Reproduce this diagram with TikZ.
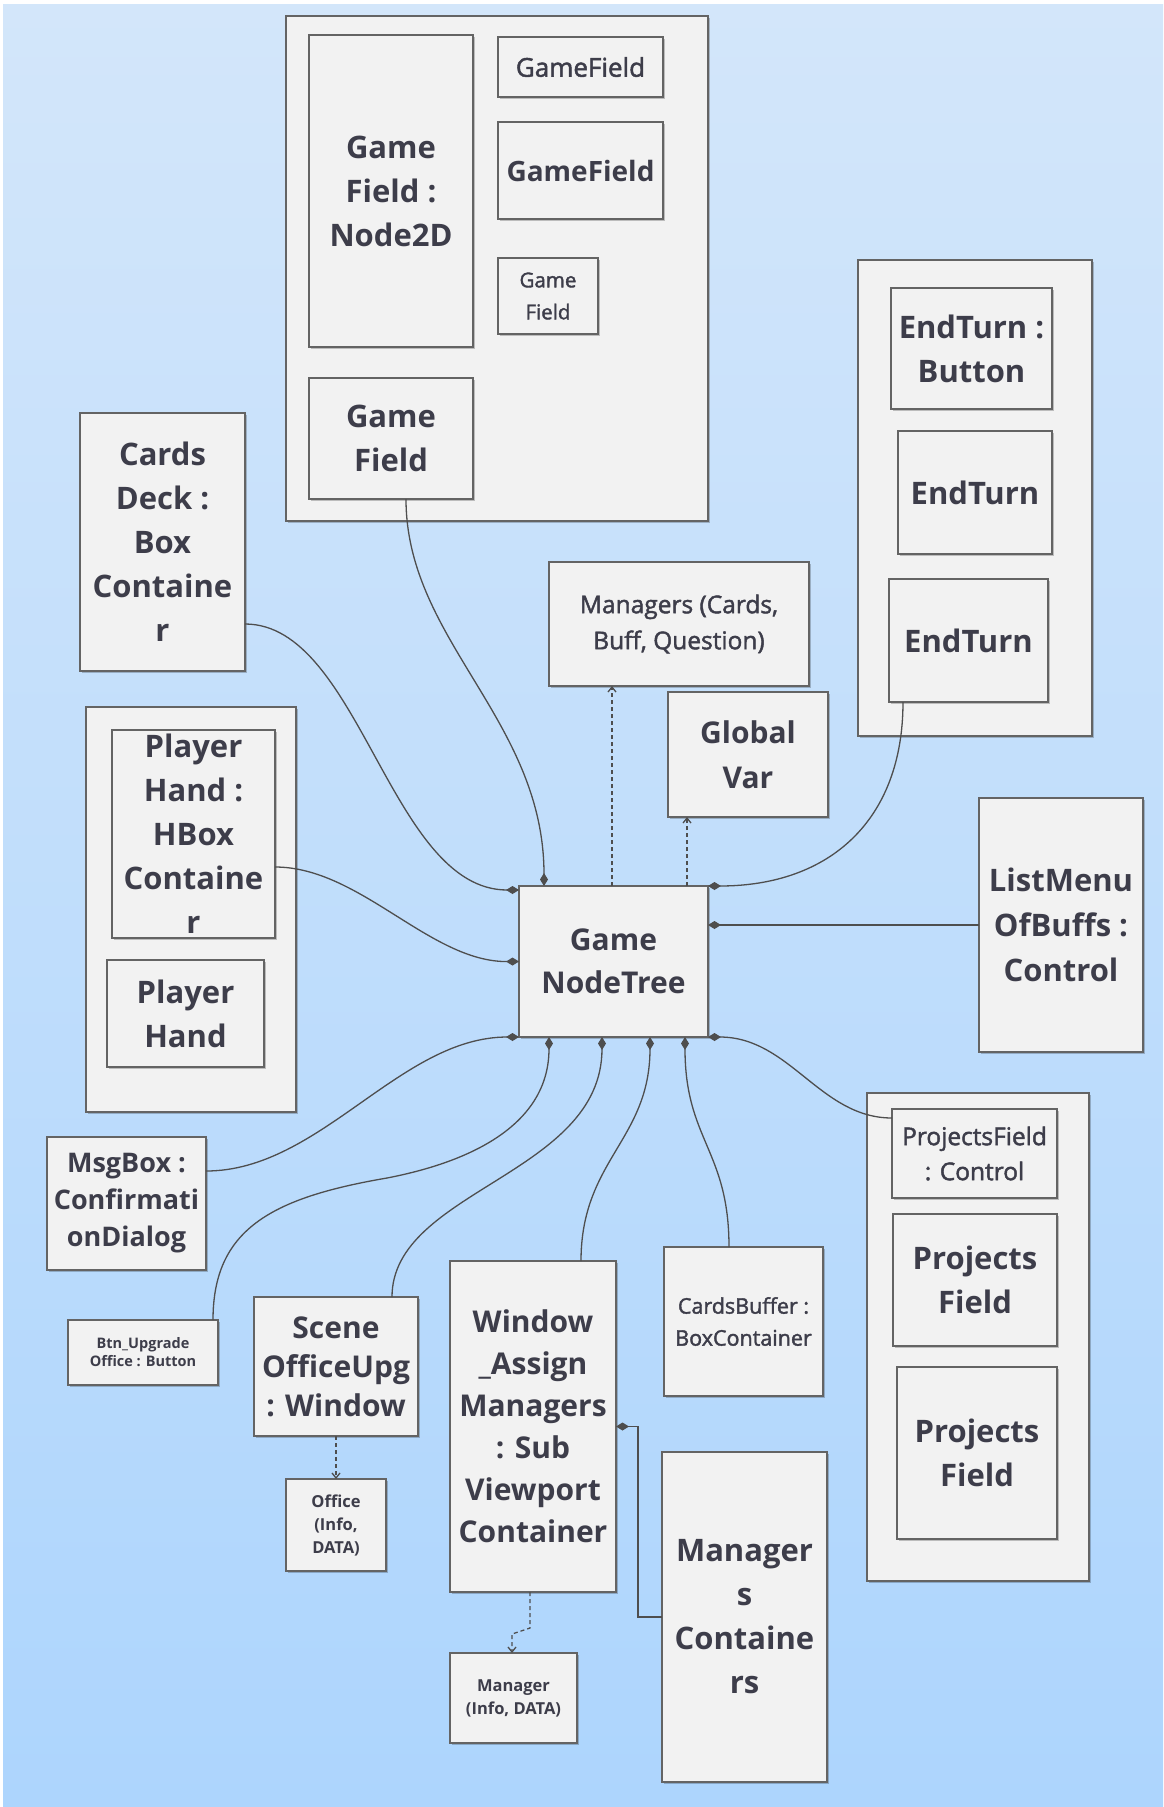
\documentclass[tikz,border=0pt]{standalone}
\usepackage{fontspec}
\setmainfont{Open Sans}
\newfontfamily\semibold[FakeBold=1.8]{Open Sans}
\usetikzlibrary{arrows.meta,shadows}

\definecolor{bgtop}{HTML}{D3E6FA}
\definecolor{bgbot}{HTML}{ADD5FD}
\definecolor{boxfill}{HTML}{F2F2F2}
\definecolor{boxline}{HTML}{646464}
\definecolor{txt}{HTML}{3D3D4A}
\definecolor{wire}{HTML}{4E4E4E}

\newcommand\fsz[2]{\fontsize{#1}{#2}\selectfont}

\tikzset{
  box/.style={draw=boxline, line width=1.8pt, fill=boxfill, text=txt,
    align=center, inner sep=0pt, outer sep=0pt,
    drop shadow={shadow xshift=1.5pt, shadow yshift=-1.5pt, opacity=0.22, fill=black}},
  big/.style={font=\bfseries\fsz{31}{44}},
  wirebase/.style={draw=wire, line width=1.3pt},
  comp/.style={wirebase, -{Diamond[length=13pt,width=8pt]}},
  dep/.style={wirebase, dash pattern=on 4pt off 3pt, -{Straight Barb[length=5pt,width=8pt]}},
}

% box given by its corners (x1,y1) and (x2,y2), in pixel units, y pointing down
\newcommand\umlbox[7][]{%
  \node[box,#1,minimum width={#5-#3},minimum height={#6-#4}] (#2)
    at ({(#3+#5)/2},{(#4+#6)/2}) {#7};}

\begin{document}
\begin{tikzpicture}[x=1pt,y=-1pt]
\useasboundingbox (0,0) rectangle (1163,1807);
\fill[white] (0,0) rectangle (1163,1807);
\shade[top color=bgtop,bottom color=bgbot] (3,4) rectangle (1163,1807);

% ---- game field group
\umlbox{gfgroup}{286}{16}{708}{521}{}
\umlbox[big]{gfnode}{309}{35}{473}{347}{Game\\Field :\\Node2D}
\umlbox[font=\semibold\fsz{26}{34}]{gfa}{498}{37}{663}{97}{GameField}
\umlbox[font=\bfseries\fsz{28}{36}]{gfb}{498}{122}{663}{219}{GameField}
\umlbox[font=\semibold\fsz{20.5}{32}]{gfc}{498}{258}{598}{334}{Game\\Field}
\umlbox[big]{gfd}{309}{378}{473}{499}{Game\\Field}

% ---- left column
\umlbox[big]{deck}{80}{413}{245}{671}{Cards\\Deck :\\Box\\Containe\\r}
\umlbox{phgroup}{86}{707}{296}{1112}{}
\umlbox[big]{phbox}{112}{730}{275}{938}{Player\\Hand :\\HBox\\Containe\\r}
\umlbox[big]{ph}{107}{960}{264}{1067}{Player\\Hand}
\umlbox[font=\bfseries\fsz{27}{37}]{msg}{47}{1137}{206}{1270}{MsgBox :\\Confirmati\\onDialog}
\umlbox[font=\bfseries\fsz{14.5}{18}]{btn}{68}{1320}{218}{1385}{Btn\_Upgrade\\Office : Button}

% ---- centre
\umlbox[font=\semibold\fsz{24.5}{36}]{mgrs}{549}{562}{809}{686}{Managers (Cards,\\Buff, Question)}
\umlbox[font=\bfseries\fsz{30}{45}]{gvar}{668}{692}{828}{817}{Global\\Var}
\umlbox[font=\bfseries\fsz{30}{43}]{tree}{519}{886}{708}{1037}{Game\\NodeTree}

% ---- end turn group
\umlbox{etgroup}{858}{260}{1092}{736}{}
\umlbox[big]{eta}{891}{288}{1052}{409}{EndTurn :\\Button}
\umlbox[big]{etb}{898}{431}{1052}{554}{EndTurn}
\umlbox[big]{etc}{889}{579}{1048}{702}{EndTurn}
\umlbox[font=\bfseries\fsz{31}{45}]{list}{979}{798}{1143}{1052}{ListMenu\\OfBuffs :\\Control}

% ---- projects group
\umlbox{pfgroup}{867}{1093}{1089}{1581}{}
\umlbox[font=\semibold\fsz{24.5}{35}]{pfc}{892}{1109}{1057}{1198}{ProjectsField\\: Control}
\umlbox[big]{pfa}{893}{1214}{1057}{1346}{Projects\\Field}
\umlbox[big]{pfb}{897}{1367}{1057}{1539}{Projects\\Field}

% ---- bottom row
\umlbox[font=\bfseries\fsz{30}{39}]{scene}{254}{1297}{418}{1436}{Scene\\OfficeUpg\\: Window}
\umlbox[font=\bfseries\fsz{16.5}{23}]{office}{286}{1479}{386}{1571}{Office\\(Info,\\DATA)}
\umlbox[font=\bfseries\fsz{30}{42}]{win}{450}{1261}{616}{1592}{Window\\\_Assign\\Managers\\: Sub\\Viewport\\Container}
\umlbox[font=\semibold\fsz{21.5}{32}]{cbuf}{664}{1247}{823}{1396}{CardsBuffer :\\BoxContainer}
\umlbox[big]{mcont}{662}{1452}{827}{1782}{Manager\\s\\Containe\\rs}
\umlbox[font=\bfseries\fsz{16.5}{23}]{mgr}{450}{1653}{577}{1743}{Manager\\(Info, DATA)}

% ---- composition links into the node tree
\draw[comp] ([xshift=15pt]gfd.south) .. controls (406,640) and (544,720) .. ([xshift=-69.5pt]tree.north);
\draw[comp] ([yshift=-82pt]deck.east) .. controls (360,624) and (390,890) .. ([yshift=71.5pt]tree.west);
\draw[comp] ([yshift=-33pt]phbox.east) .. controls (360,867) and (430,962) .. (tree.west);
\draw[comp] ([yshift=32.5pt]msg.east) .. controls (320,1171) and (400,1037) .. (tree.south west);
\draw[comp] ([xshift=-5pt]btn.north east) .. controls (213,1230) and (270,1198) .. (387,1178)
  .. controls (480,1160) and (549,1120) .. ([xshift=-64.5pt]tree.south);
\draw[comp] ([xshift=56pt]scene.north) .. controls (392,1190) and (602,1175) .. ([xshift=-11.5pt]tree.south);
\draw[comp] ([xshift=48pt]win.north) .. controls (581,1160) and (650,1140) .. ([xshift=36.5pt]tree.south);
\draw[comp] ([xshift=-14.5pt]cbuf.north) .. controls (729,1150) and (685,1140) .. ([xshift=71.5pt]tree.south);
\draw[comp] ([yshift=35.5pt]pfc.west) .. controls (820,1118) and (790,1037) .. (tree.south east);
\draw[comp] ([xshift=-65.5pt]etc.south) .. controls (903,820) and (830,886) .. (tree.north east);
\draw[comp] (list.west) -- ([yshift=36.5pt]tree.east);
\draw[comp] (mcont.west) -| ([xshift=22pt]win.east) -- (win.east);

% ---- dependencies
\draw[dep] ([xshift=-1.5pt]tree.north) -- ([xshift=-67pt]mgrs.south);
\draw[dep] ([xshift=73.5pt]tree.north) -- ([xshift=-61pt]gvar.south);
\draw[dep] (scene.south) -- (office.north);
\draw[dep] ([xshift=-3pt]win.south) -- ++(0,36) -- ++(-18,6) -- ([xshift=-1.5pt]mgr.north);
\end{tikzpicture}
\end{document}
